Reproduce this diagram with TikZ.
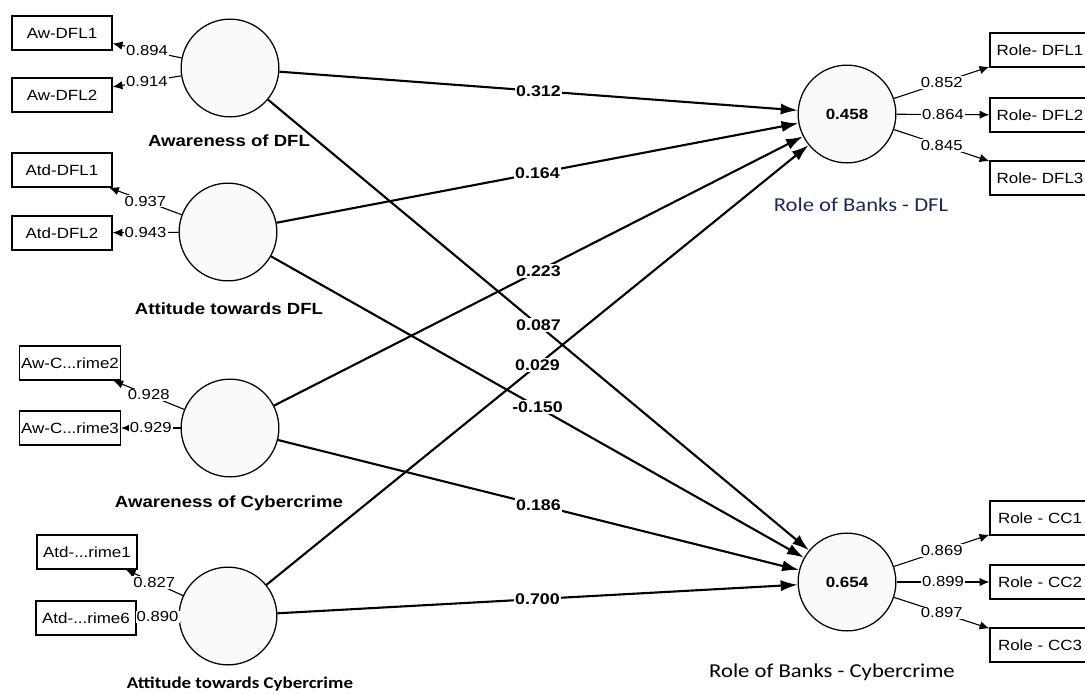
\documentclass[tikz,border=0pt]{standalone}
\usepackage{fontspec}
\setmainfont{Liberation Sans}[FakeStretch=1.15]
\newfontfamily\califont{Carlito}[FakeStretch=1.15]
\usepackage{tikz}
\usetikzlibrary{arrows.meta,positioning}
\definecolor{rolenavy}{RGB}{28,40,86}
\definecolor{latfill}{RGB}{250,250,250}
\tikzset{
	latent/.style = {draw, fill=latfill, circle, line width=0.9pt, minimum size=69.5pt, inner sep=0pt, font=\fontsize{10.5}{12}\selectfont\bfseries},
	indicator/.style = {draw, fill=white, rectangle, line width=1pt, minimum height=24pt, minimum width=71pt, inner sep=1pt, font=\fontsize{10.5}{12}\selectfont},
	struct/.style = {line width=1.5pt, -{Latex[length=12pt,width=8pt]}},
	load/.style = {line width=0.8pt, -{Latex[length=7pt,width=6pt]}},
	coef/.style = {fill=white, inner sep=1pt, font=\fontsize{11}{13}\selectfont\bfseries},
	ldg/.style = {fill=white, inner sep=0.8pt, font=\fontsize{10.3}{12}\selectfont},
	latname/.style = {font=\fontsize{11.5}{13}\selectfont\bfseries},
	rolename/.style = {font=\califont\fontsize{14}{16}\selectfont}
}
\begin{document}
\begin{tikzpicture}[x=0.025cm, y=-0.025cm]
    \useasboundingbox (0,0) rectangle (1085,693);

    % latent variables
    \node [latent] (awdfl) at (230,68) {};
    \node [latent] (atddfl) at (228,232) {};
    \node [latent] (awcc) at (230,428) {};
    \node [latent] (atdcc) at (228,616) {};
    \node [latent] (rbdfl) at (847,114) {0.458};
    \node [latent] (rbcc) at (847,582) {0.654};

    \node [latname] (awdfltxt) at (229,141) {Awareness of DFL};
    \node [latname] (atddfltxt) at (229,309) {Attitude towards DFL};
    \node [latname] (awcctxt) at (229,503) {Awareness of Cybercrime};
    \node [latname, font=\califont\fontsize{11.7}{13}\selectfont\bfseries] (atdcctxt) at (240,684) {Attitude towards Cybercrime};
    \node [rolename, text=rolenavy] (rbdfltxt) at (861,205) {Role of Banks - DFL};
    \node [rolename] (rbcctxt) at (832,672) {Role of Banks - Cybercrime};

    % indicators
    \node [indicator] (awdfl1) at (62,33) {Aw-DFL1};
    \node [indicator] (awdfl2) at (62,95) {Aw-DFL2};
    \node [indicator] (atddfl1) at (62,170) {Atd-DFL1};
    \node [indicator] (atddfl2) at (62,233) {Atd-DFL2};
    \node [indicator] (awcc2) at (70,363) {Aw-C...rime2};
    \node [indicator] (awcc3) at (70,428) {Aw-C...rime3};
    \node [indicator] (atdcc1) at (87,552) {Atd-...rime1};
    \node [indicator] (atdcc6) at (86,618) {Atd-...rime6};

    \node [indicator] (rdfl1) at (1040,50) {Role- DFL1};
    \node [indicator] (rdfl2) at (1040,115) {Role- DFL2};
    \node [indicator] (rdfl3) at (1040,178) {Role- DFL3};
    \node [indicator] (rcc1) at (1040,518) {Role - CC1};
    \node [indicator] (rcc2) at (1040,582) {Role - CC2};
    \node [indicator] (rcc3) at (1040,645) {Role - CC3};

    % outer loadings
    \draw [load] (awdfl) -- node[ldg]{0.894} (awdfl1);
    \draw [load] (awdfl) -- node[ldg]{0.914} (awdfl2);
    \draw [load] (atddfl) -- node[ldg]{0.937} (atddfl1);
    \draw [load] (atddfl) -- node[ldg]{0.943} (atddfl2);
    \draw [load] (awcc) -- node[ldg]{0.928} (awcc2);
    \draw [load] (awcc) -- node[ldg]{0.929} (awcc3);
    \draw [load] (atdcc) -- node[ldg]{0.827} (atdcc1);
    \draw [load] (atdcc) -- node[ldg]{0.890} (atdcc6);

    \draw [load] (rbdfl) -- node[ldg]{0.852} (rdfl1);
    \draw [load] (rbdfl) -- node[ldg]{0.864} (rdfl2);
    \draw [load] (rbdfl) -- node[ldg]{0.845} (rdfl3);
    \draw [load] (rbcc) -- node[ldg]{0.869} (rcc1);
    \draw [load] (rbcc) -- node[ldg]{0.899} (rcc2);
    \draw [load] (rbcc) -- node[ldg]{0.897} (rcc3);

    % path coefficients
    \draw [struct] (awdfl) -- node[coef]{0.312} (rbdfl);
    \draw [struct] (atddfl) -- node[coef]{0.164} (rbdfl);
    \draw [struct] (awcc) -- node[coef]{0.223} (rbdfl);
    \draw [struct] (atdcc) -- node[coef]{0.029} (rbdfl);
    \draw [struct] (awdfl) -- node[coef]{0.087} (rbcc);
    \draw [struct] (atddfl) -- node[coef]{-0.150} (rbcc);
    \draw [struct] (awcc) -- node[coef]{0.186} (rbcc);
    \draw [struct] (atdcc) -- node[coef]{0.700} (rbcc);
\end{tikzpicture}
\end{document}
